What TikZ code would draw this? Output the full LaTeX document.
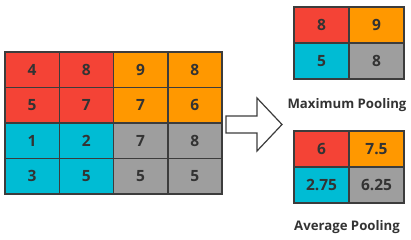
\documentclass[tikz,border=0pt]{standalone}
\usepackage{fontspec}
\setmainfont{Open Sans}
\usepackage{tikz}
\usetikzlibrary{calc}

\definecolor{cellred}{HTML}{F44336}
\definecolor{cellorange}{HTML}{FF9800}
\definecolor{cellcyan}{HTML}{00BCD4}
\definecolor{cellgray}{HTML}{9E9E9E}
\definecolor{linegray}{HTML}{3C3C3C}
\definecolor{textgray}{HTML}{333333}

\tikzset{
  cellbox/.style={draw=linegray, line width=1.5pt, minimum width=54.25pt,
    minimum height=35.5pt, inner sep=0pt, text=textgray,
    font=\fontsize{15.5}{15.5}\selectfont\bfseries},
  poolbox/.style={cellbox, minimum width=55pt, minimum height=36pt},
  poollabel/.style={text=textgray, font=\fontsize{13.2}{14}\selectfont\bfseries}
}

\begin{document}
\begin{tikzpicture}[x=1pt,y=-1pt]
\useasboundingbox (0,0) rectangle (411,240);
% input feature map
\foreach \row [count=\i] in {{4/cellred,8/cellred,9/cellorange,8/cellorange},
                             {5/cellred,7/cellred,7/cellorange,6/cellorange},
                             {1/cellcyan,2/cellcyan,7/cellgray,8/cellgray},
                             {3/cellcyan,5/cellcyan,5/cellgray,5/cellgray}}
  \foreach \v/\c [count=\j] in \row
    \node[cellbox, fill=\c] (in-\i-\j) at ({5+54.25*(\j-0.5)},{52+35.5*(\i-0.5)}) {\v};
% maximum pooling
\foreach \v/\c [count=\k from 0] in {8/cellred,9/cellorange,5/cellcyan,8/cellgray}{
  \pgfmathtruncatemacro{\r}{div(\k,2)}
  \pgfmathtruncatemacro{\s}{mod(\k,2)}
  \node[poolbox, fill=\c] (max-\k) at ({294+55*(\s+0.5)},{7+36*(\r+0.5)}) {\v};
}
\node[poollabel] (maxlabel) at (347,105) {Maximum Pooling};
% average pooling
\foreach \v/\c [count=\k from 0] in {6/cellred,7.5/cellorange,2.75/cellcyan,6.25/cellgray}{
  \pgfmathtruncatemacro{\r}{div(\k,2)}
  \pgfmathtruncatemacro{\s}{mod(\k,2)}
  \node[poolbox, fill=\c] (avg-\k) at ({294+55*(\s+0.5)},{131+36*(\r+0.5)}) {\v};
}
\node[poollabel] (avglabel) at (347,227) {Average Pooling};
% arrow
\draw[linegray, line width=1.2pt, line join=miter, fill=white]
  (226,116) -- (257,116) -- (257,98) -- (282,124.5) -- (257,151)
  -- (257,133) -- (226,133) -- cycle;
\end{tikzpicture}
\end{document}
